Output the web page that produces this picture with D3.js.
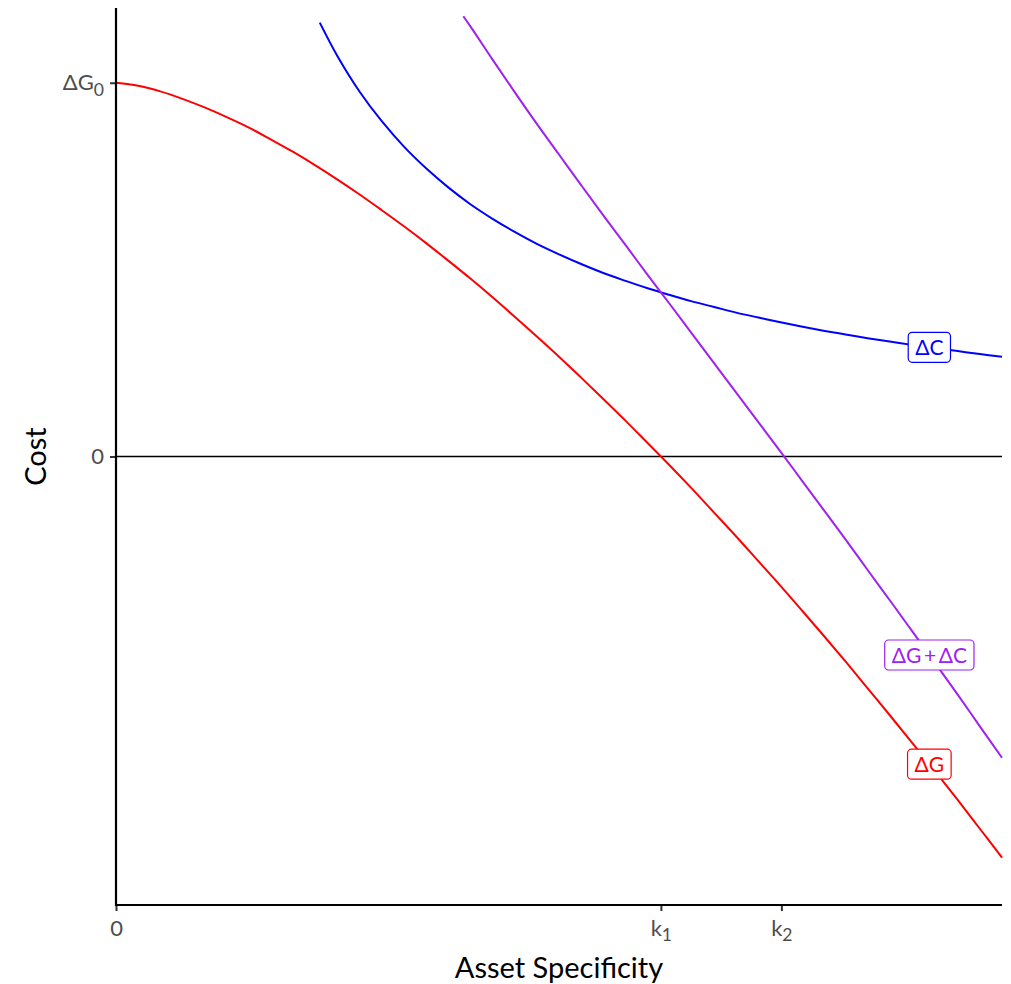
<!DOCTYPE html>
<html>
<head>
<meta charset="utf-8">
<script src="https://cdn.jsdelivr.net/npm/d3@7/dist/d3.min.js"></script>
<style>
  html, body { margin: 0; padding: 0; background: #fff; }
  svg text { font-family: Lato, "Noto Sans", "Open Sans", sans-serif; }
</style>
</head>
<body>
<svg id="chart" width="1011" height="984"></svg>
<script>
// ---- data ----
const gX = [0,2.5,5,7.5,10,12.5,15,17.5,20,22.5,25,27.5,30,32.5,35,37.5,40,42.5,45,47.5,50,52.5,55,57.5,60,62.5,65,67.5,70,72.5,75,77.5,80,82.5,85,87.5,90,92.5,95,97.5,100];
const gY = [1.000,0.992,0.977,0.957,0.934,0.908,0.880,0.848,0.815,0.779,0.741,0.701,0.659,0.616,0.571,0.524,0.476,0.426,0.374,0.321,0.267,0.211,0.154,0.096,0.036,-0.024,-0.086,-0.150,-0.214,-0.280,-0.346,-0.414,-0.483,-0.553,-0.625,-0.697,-0.770,-0.844,-0.919,-0.996,-1.073];

const cX = [23,25,27.5,30,32.5,35,37.5,40,42.5,45,47.5,50,52.5,55,57.5,60,62.5,65,67.5,70,72.5,75,77.5,80,82.5,85,87.5,90,92.5,95,97.5,100];
const cY = [1.161,1.071,0.976,0.897,0.829,0.771,0.720,0.675,0.636,0.601,0.569,0.541,0.515,0.491,0.470,0.450,0.432,0.415,0.400,0.385,0.372,0.359,0.347,0.336,0.326,0.316,0.307,0.298,0.290,0.282,0.274,0.267];

const sX = [39.2,40,42.5,45,47.5,50,52.5,55,57.5,60,62.5,65,67.5,70,72.5,75,77.5,80,82.5,85,87.5,90,92.5,95,97.5,100];
const sY = [1.178,1.151,1.062,0.975,0.890,0.808,0.726,0.645,0.566,0.486,0.408,0.329,0.250,0.171,0.092,0.013,-0.067,-0.147,-0.227,-0.309,-0.390,-0.472,-0.554,-0.637,-0.722,-0.806];

const seriesNames = ["ΔC", "ΔG\u2009+\u2009ΔC", "ΔG"];
const seriesColors = ["#0000FF", "#A020F0", "#FF0000"];
const labelX = 91.8;

const xTickValues = [0, 61.5, 75.1];
const xTickLabels = ["0", "k|1", "k|2"];
const yTickValues = [0, 1];
const yTickLabels = ["0", "ΔG|0"];

const xTitle = "Asset Specificity";
const yTitle = "Cost";

(function () {
const svg = d3.select("#chart");
const mLeft = 116, mRight = 1002, mTop = 8, mBottom = 905;

const x = d3.scaleLinear().domain([0, 100]).range([mLeft, mRight]);
const y = d3.scaleLinear().domain([-1.2, 1.2]).range([mBottom, mTop]);

svg.append("line")
  .attr("x1", x(0)).attr("x2", x(100))
  .attr("y1", y(0)).attr("y2", y(0))
  .attr("stroke", "#000").attr("stroke-width", 1.5);

const series = [
  {name: seriesNames[0], color: seriesColors[0], xs: cX, ys: cY},
  {name: seriesNames[1], color: seriesColors[1], xs: sX, ys: sY},
  {name: seriesNames[2], color: seriesColors[2], xs: gX, ys: gY}
];

const line = d3.line().x(d => x(d[0])).y(d => y(d[1])).curve(d3.curveCatmullRom.alpha(0.5));

series.forEach(s => {
  const pts = s.xs.map((v, i) => [v, s.ys[i]]);
  svg.append("path")
    .attr("d", line(pts))
    .attr("fill", "none")
    .attr("stroke", s.color)
    .attr("stroke-width", 2);
});

function subLabel(sel, lab) {
  const parts = lab.split("|");
  sel.text(null);
  sel.append("tspan").text(parts[0]);
  if (parts.length > 1) {
    sel.append("tspan").attr("dy", "0.3em").attr("font-size", "0.8em").text(parts[1]);
  }
}

const xAxis = d3.axisBottom(x).tickValues(xTickValues).tickSize(6).tickPadding(9)
  .tickFormat((d, i) => xTickLabels[i]);
const gx = svg.append("g").attr("transform", `translate(0,${mBottom})`).call(xAxis);
gx.select(".domain").remove();
gx.selectAll(".tick line").attr("stroke", "#333").attr("stroke-width", 2);
gx.selectAll(".tick text").attr("fill", "#4d4d4d").attr("font-size", 22)
  .each(function(d, i) { subLabel(d3.select(this), xTickLabels[i]); });

const yAxis = d3.axisLeft(y).tickValues(yTickValues).tickSize(6).tickPadding(6)
  .tickFormat((d, i) => yTickLabels[i]);
const gy = svg.append("g").attr("transform", `translate(${mLeft},0)`).call(yAxis);
gy.select(".domain").remove();
gy.selectAll(".tick line").attr("stroke", "#333").attr("stroke-width", 2);
gy.selectAll(".tick text").attr("fill", "#4d4d4d").attr("font-size", 22)
  .each(function(d, i) { subLabel(d3.select(this), yTickLabels[i]); });

svg.append("line").attr("x1", mLeft).attr("x2", mLeft).attr("y1", mTop).attr("y2", mBottom + 1)
  .attr("stroke", "#000").attr("stroke-width", 2.2);
svg.append("line").attr("x1", mLeft - 1).attr("x2", mRight).attr("y1", mBottom).attr("y2", mBottom)
  .attr("stroke", "#000").attr("stroke-width", 2.2);

svg.append("text").attr("x", (mLeft + mRight) / 2).attr("y", 978)
  .attr("text-anchor", "middle").attr("font-size", 29).attr("fill", "#000").text(xTitle);
svg.append("text").attr("transform", `translate(46,${y(0)}) rotate(-90)`)
  .attr("text-anchor", "middle").attr("font-size", 29).attr("fill", "#000").text(yTitle);

function interp(xs, ys, xv) {
  const i = d3.bisectRight(xs, xv);
  const i0 = Math.max(1, Math.min(xs.length - 1, i));
  const t = (xv - xs[i0 - 1]) / (xs[i0] - xs[i0 - 1]);
  return ys[i0 - 1] + t * (ys[i0] - ys[i0 - 1]);
}

series.forEach(s => {
  const cx = x(labelX), cy = y(interp(s.xs, s.ys, labelX));
  const g = svg.append("g");
  const rect = g.append("rect");
  const t = g.append("text").attr("x", cx).attr("y", cy).attr("dy", "0.36em")
    .attr("text-anchor", "middle").attr("font-size", 21).attr("fill", s.color).text(s.name);
  const bb = t.node().getBBox();
  const padX = 7;
  rect.attr("x", bb.x - padX).attr("y", cy - 15)
    .attr("width", bb.width + 2 * padX).attr("height", 30)
    .attr("rx", 4).attr("fill", "#fff").attr("stroke", s.color).attr("stroke-width", 1.2);
});
})();
</script>
</body>
</html>
